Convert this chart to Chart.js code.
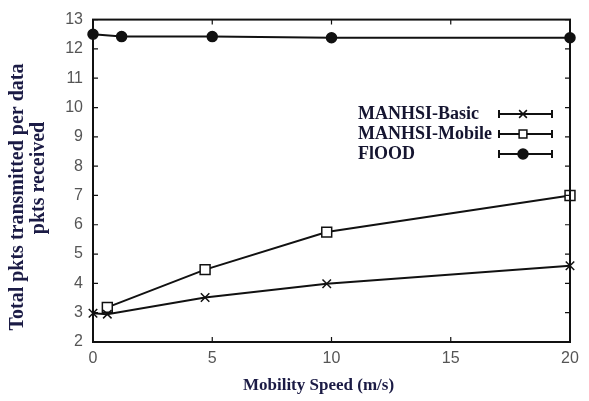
<!DOCTYPE html>
<html>
<head>
<meta charset="utf-8">
<script src="https://cdn.jsdelivr.net/npm/chart.js@4/dist/chart.umd.min.js"></script>
<style>
  html, body { margin: 0; padding: 0; background: #fff; }
  #wrap { width: 589px; height: 401px; }
</style>
</head>
<body>
<div id="wrap"><canvas id="chart"></canvas></div>
<script>
// Data
const basicSpeed = [0, 0.6, 4.7, 9.8, 20];
const basicPkts = [2.98, 2.95, 3.52, 3.99, 4.6];
const mobileSpeed = [0.6, 4.7, 9.8, 20];
const mobilePkts = [3.18, 4.47, 5.75, 7.0];
const floodSpeed = [0, 1.2, 5, 10, 20];
const floodPkts = [12.5, 12.42, 12.42, 12.38, 12.38];
const seriesNames = ['MANHSI-Basic', 'MANHSI-Mobile', 'FlOOD'];
const xTitle = 'Mobility Speed (m/s)';
const yTitle = ['Total pkts transmitted per data', 'pkts received'];

const ink = '#111';
const titleColor = '#1b1b45';

function toPoints(xs, ys) {
    return xs.map((x, i) => ({ x: x, y: ys[i] }));
}

const styles = [
    { pointStyle: 'crossRot', pointRadius: 6, backgroundColor: ink },
    { pointStyle: 'rect', pointRadius: 7, backgroundColor: '#fff' },
    { pointStyle: 'circle', pointRadius: 5, backgroundColor: ink }
];

// Box, inward ticks, titles and legend (gnuplot look)
const decorPlugin = {
    id: 'decor',
    afterDatasetsDraw(chart) {
        const ctx = chart.ctx;
        const a = chart.chartArea;
        const xs = chart.scales.x, ys = chart.scales.y;
        ctx.save();
        ctx.strokeStyle = ink;
        ctx.lineWidth = 2;
        ctx.strokeRect(a.left, a.top, a.right - a.left, a.bottom - a.top);

        ctx.lineWidth = 1.2;
        ctx.beginPath();
        xs.ticks.forEach(t => {
            const px = xs.getPixelForValue(t.value);
            ctx.moveTo(px, a.bottom); ctx.lineTo(px, a.bottom - 5);
            ctx.moveTo(px, a.top); ctx.lineTo(px, a.top + 5);
        });
        ys.ticks.forEach(t => {
            const py = ys.getPixelForValue(t.value);
            ctx.moveTo(a.left, py); ctx.lineTo(a.left + 5, py);
            ctx.moveTo(a.right, py); ctx.lineTo(a.right - 5, py);
        });
        ctx.stroke();

        // axis titles
        ctx.fillStyle = titleColor;
        ctx.font = 'bold 17px "Liberation Serif"';
        ctx.textAlign = 'center';
        ctx.textBaseline = 'middle';
        ctx.fillText(xTitle, (a.left + a.right) / 2 - 13, 386);

        ctx.font = 'bold 20px "Liberation Serif"';
        ctx.save();
        ctx.translate(18, 197);
        ctx.rotate(-Math.PI / 2);
        ctx.fillText(yTitle[0], 0, 0);
        ctx.restore();
        ctx.save();
        ctx.translate(39, 178);
        ctx.rotate(-Math.PI / 2);
        ctx.fillText(yTitle[1], 0, 0);
        ctx.restore();

        // legend
        ctx.font = 'bold 18px "Liberation Serif"';
        ctx.textAlign = 'left';
        const x0 = 499, x1 = 552, xm = 523;
        seriesNames.forEach((name, i) => {
            const y = 114 + i * 20;
            ctx.fillStyle = '#151530';
            ctx.fillText(name, 358, y);
            ctx.strokeStyle = ink;
            ctx.lineWidth = 2;
            ctx.beginPath();
            ctx.moveTo(x0, y); ctx.lineTo(x1, y);
            ctx.moveTo(x0, y - 4); ctx.lineTo(x0, y + 4);
            ctx.moveTo(x1, y - 4); ctx.lineTo(x1, y + 4);
            ctx.stroke();
            const s = styles[i];
            ctx.fillStyle = s.backgroundColor;
            ctx.lineWidth = 1.5;
            Chart.helpers.drawPoint(ctx, {
                pointStyle: s.pointStyle,
                radius: i === 2 ? 5 : 5.5,
                rotation: 0,
                borderWidth: 1.5
            }, xm, y);
        });
        ctx.restore();
    }
};

const datasets = [
    toPoints(basicSpeed, basicPkts),
    toPoints(mobileSpeed, mobilePkts),
    toPoints(floodSpeed, floodPkts)
].map((pts, i) => Object.assign({
    label: seriesNames[i],
    data: pts,
    showLine: true,
    borderColor: ink,
    borderWidth: 2,
    pointBorderColor: ink,
    pointBorderWidth: 1.5,
    pointHoverRadius: 6,
    tension: 0,
    clip: false
}, styles[i]));

new Chart(document.getElementById('chart').getContext('2d'), {
    type: 'scatter',
    data: { datasets: datasets },
    options: {
        responsive: true,
        maintainAspectRatio: false,
        animation: false,
        layout: { padding: { left: 0, right: 19, top: 18, bottom: 0 } },
        plugins: {
            legend: { display: false },
            tooltip: { enabled: false }
        },
        scales: {
            x: {
                type: 'linear',
                min: 0,
                max: 20,
                ticks: {
                    stepSize: 5,
                    padding: 7,
                    color: '#555',
                    font: { family: '"Liberation Sans", Arial', size: 16 }
                },
                grid: { display: false, drawTicks: false },
                border: { display: false },
                afterFit(scale) { scale.height = 59; }
            },
            y: {
                type: 'linear',
                min: 2,
                max: 13,
                ticks: {
                    stepSize: 1,
                    padding: 10,
                    color: '#555',
                    font: { family: '"Liberation Sans", Arial', size: 16 }
                },
                grid: { display: false, drawTicks: false },
                border: { display: false },
                afterFit(scale) { scale.width = 93; }
            }
        }
    },
    plugins: [decorPlugin]
});
</script>
</body>
</html>
